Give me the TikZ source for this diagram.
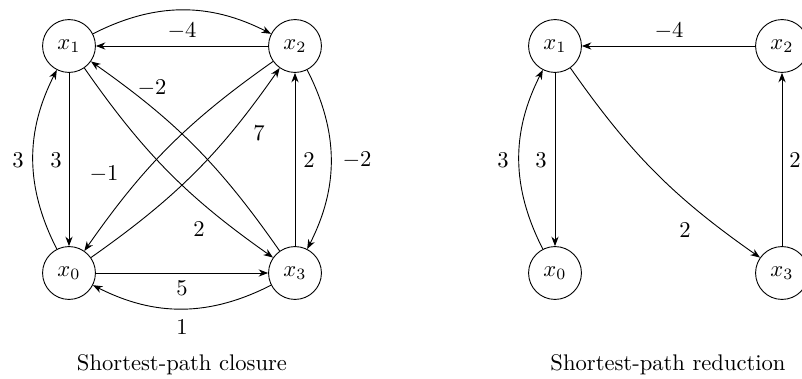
\documentclass[tikz,border=0pt]{standalone}
\usetikzlibrary{arrows.meta}
\begin{document}
\begin{tikzpicture}[x=0.4425pt,y=-0.4425pt,
  vtx/.style={draw,circle,minimum size=23.4pt,inner sep=0pt},
  arr/.style={-{Stealth[length=4.2pt,width=3.2pt]}},
  outer/.style={arr,bend left=27},
  diag/.style={arr,bend right=10},
  lbl/.style={inner sep=0pt}]
\useasboundingbox (0,0) rectangle (802,379);
% left graph
\node[vtx] (L1) at (69,46) {$x_1$};
\node[vtx] (L2) at (295,46) {$x_2$};
\node[vtx] (L0) at (69,273) {$x_0$};
\node[vtx] (L3) at (295,273) {$x_3$};
\draw[outer] (L1) to (L2);
\draw[arr] (L2) -- (L1);
\draw[arr] (L1) -- (L0);
\draw[outer] (L0) to (L1);
\draw[arr] (L0) -- (L3);
\draw[outer] (L3) to (L0);
\draw[arr] (L3) -- (L2);
\draw[outer] (L2) to (L3);
\draw[diag] (L1) to (L3);
\draw[diag] (L3) to (L1);
\draw[diag] (L2) to (L0);
\draw[diag] (L0) to (L2);
\node[lbl] (la) at (183,-7.5) {$4$};
\node[lbl] (lb) at (182,31) {$-4$};
\node[lbl] (lc) at (56,160) {$3$};
\node[lbl] (ld) at (18,160) {$3$};
\node[lbl] (le) at (182,288) {$5$};
\node[lbl] (lf) at (182,327) {$1$};
\node[lbl] (lg) at (309,160) {$2$};
\node[lbl] (lh) at (357,160) {$-2$};
\node[lbl] (li) at (152,88) {$-2$};
\node[lbl] (lj) at (104,174) {$-1$};
\node[lbl] (lk) at (259,133) {$7$};
\node[lbl] (ll) at (199,229) {$2$};
\node (capL) at (182,365) {Shortest-path closure};
% right graph
\node[vtx] (R1) at (555,46) {$x_1$};
\node[vtx] (R2) at (782,46) {$x_2$};
\node[vtx] (R0) at (555,273) {$x_0$};
\node[vtx] (R3) at (782,273) {$x_3$};
\draw[arr] (R2) -- (R1);
\draw[arr] (R1) -- (R0);
\draw[outer] (R0) to (R1);
\draw[diag] (R1) to (R3);
\draw[arr] (R3) -- (R2);
\node[lbl] (ra) at (669,31) {$-4$};
\node[lbl] (rb) at (541,160) {$3$};
\node[lbl] (rc) at (503,160) {$3$};
\node[lbl] (rd) at (795,160) {$2$};
\node[lbl] (re) at (685,230) {$2$};
\node (capR) at (668,365) {Shortest-path reduction};
\end{tikzpicture}
\end{document}
